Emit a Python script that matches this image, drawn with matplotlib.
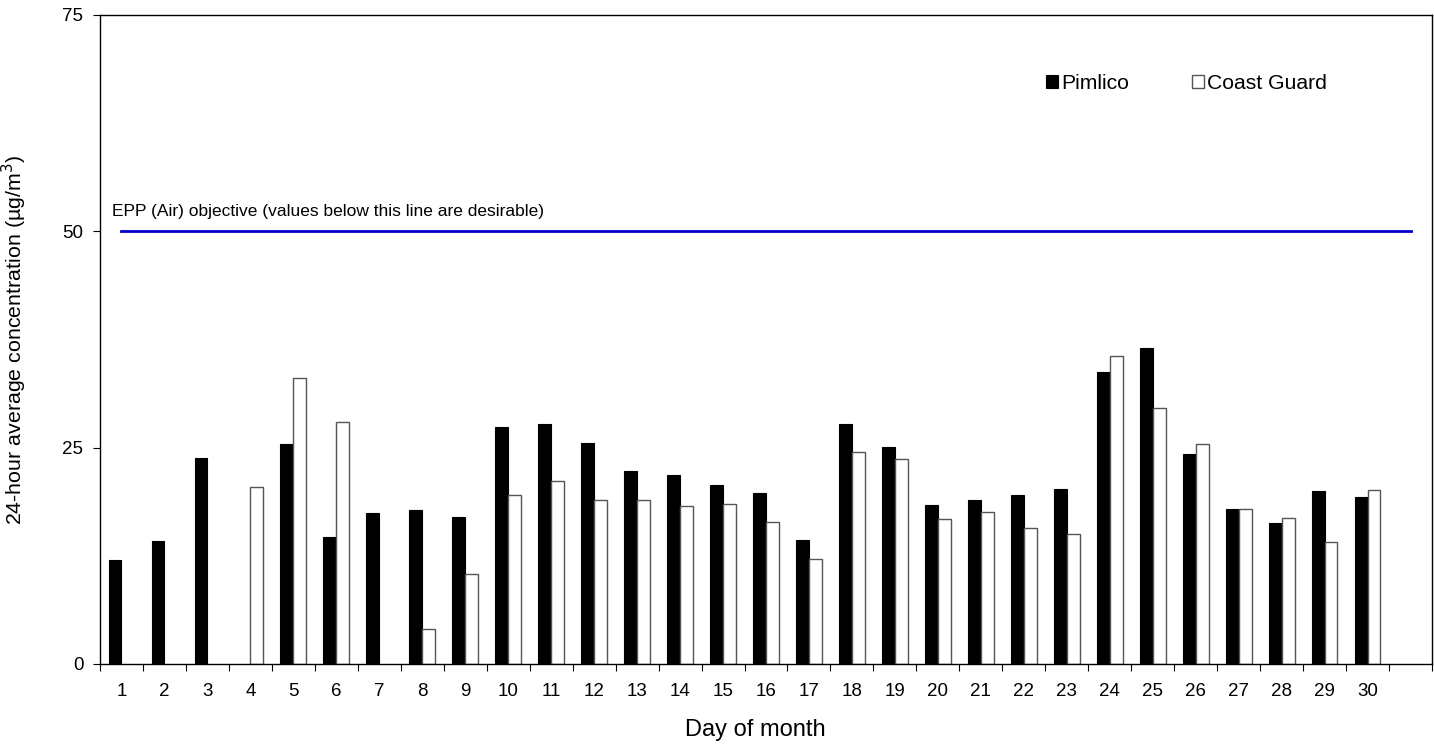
import matplotlib
matplotlib.use("Agg")
import matplotlib.pyplot as plt
import numpy as np

plt.rcParams["font.family"] = ["Liberation Sans", "DejaVu Sans"]

days = [str(d) for d in range(1, 31)] + [""]
pimlico = [12.0, 14.2, 23.8, np.nan, 25.4, 14.7, 17.45, 17.8, 17.0, 27.4,
           27.7, 25.5, 22.3, 21.8, 20.7, 19.8, 14.3, 27.7, 25.1, 18.4,
           18.95, 19.5, 20.2, 33.7, 36.55, 24.3, 17.9, 16.3, 20.0, 19.3, np.nan]
coast_guard = [np.nan, np.nan, np.nan, 20.4, 33.0, 28.0, np.nan, 4.1, 10.4, 19.5,
               21.1, 19.0, 19.0, 18.3, 18.45, 16.4, 12.1, 24.5, 23.7, 16.8,
               17.6, 15.7, 15.0, 35.6, 29.6, 25.4, 17.9, 16.9, 14.1, 20.1, np.nan]
objective = [50] * 31

x = np.arange(len(days))
w = 0.3

fig = plt.figure(figsize=(14.34, 7.44), dpi=100)
ax = fig.add_axes([100 / 1434, 80 / 744, 1332 / 1434, 649 / 744])

ax.bar(x - w / 2, pimlico, w, color="black", edgecolor="black", lw=0.8, label="Pimlico")
ax.bar(x + w / 2, coast_guard, w, color="white", edgecolor="#555555", lw=1.0, label="Coast Guard")
ax.plot(x, objective, color="#0000cc", lw=2)
ax.text(-0.22, 52.3, "EPP (Air) objective (values below this line are desirable)",
        fontsize=12.5, va="center", ha="left")

ax.set_xlim(-0.5, len(days) - 0.5)
ax.set_ylim(0, 75)
ax.set_yticks([0, 25, 50, 75])
ax.tick_params(axis="y", labelsize=13.5, length=5, direction="out", pad=7)
ax.set_xticks(np.arange(len(days) + 1) - 0.5)
ax.set_xticklabels([])
ax.tick_params(axis="x", which="major", length=5, direction="out")
ax.set_xticks(x, minor=True)
ax.set_xticklabels(days, minor=True)
ax.tick_params(axis="x", which="minor", length=0, labelsize=13.5, pad=14)

for s in ax.spines.values():
    s.set_linewidth(1)

ax.set_xlabel("Day of month", fontsize=17)
ax.xaxis.set_label_coords(0.4917, -0.085)
ax.set_ylabel("24-hour average concentration (µg/m$^3$)", fontsize=15.4)
ax.yaxis.set_label_coords(-0.053, 0.5)

ax.legend(loc="upper left", bbox_to_anchor=(0.696, 0.939), ncol=2, frameon=False,
          fontsize=15.2, handlelength=0.56, handleheight=0.56, handletextpad=0.15,
          columnspacing=3.0)

fig.savefig("out.png", dpi=100)
